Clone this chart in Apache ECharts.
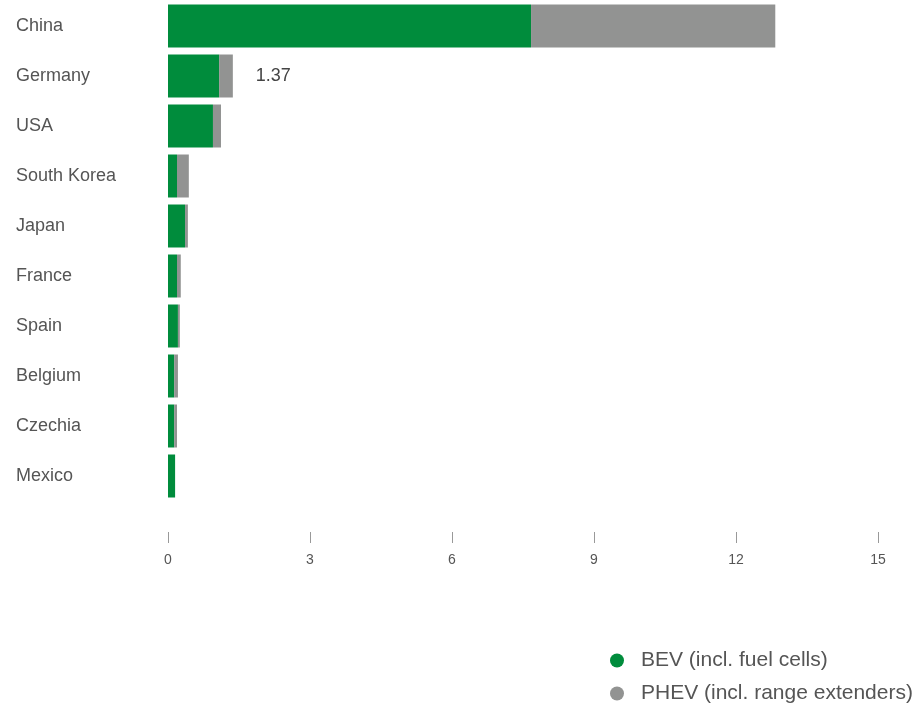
<!DOCTYPE html>
<html>
<head>
<meta charset="utf-8">
<script src="https://cdn.jsdelivr.net/npm/echarts@6/dist/echarts.min.js"></script>
<style>
  html, body { margin: 0; padding: 0; background: #fff; }
  #chart { width: 917px; height: 709px; }
</style>
</head>
<body>
<div id="chart"></div>
<script>
// million vehicles
const countries = ['China', 'Germany', 'USA', 'South Korea', 'Japan', 'France', 'Spain', 'Belgium', 'Czechia', 'Mexico'];
const bev = [7.67, 1.08, 0.95, 0.19, 0.36, 0.19, 0.21, 0.13, 0.13, 0.15];
const phev = [5.16, 0.29, 0.17, 0.25, 0.06, 0.08, 0.04, 0.08, 0.06, 0.0];
const labelled = ['Germany'];
const xTicks = { min: 0, max: 15, interval: 3 };

const green = '#008C3C';
const grey = '#929392';
const font = 'Liberation Sans, Arial, sans-serif';

let myChart = echarts.init(document.getElementById('chart'));

let option = {
  animation: false,
  textStyle: { fontFamily: font },
  legend: {
    orient: 'vertical',
    left: 610,
    top: 650,
    padding: 0,
    icon: 'circle',
    itemWidth: 14,
    itemHeight: 14,
    itemGap: 12,
    textStyle: { fontSize: 21, color: '#555', fontFamily: font, padding: [0, 0, 0, 12] },
    data: ['BEV (incl. fuel cells)', 'PHEV (incl. range extenders)']
  },
  grid: { left: 168, right: 39, top: 1, bottom: 208, containLabel: false },
  xAxis: {
    type: 'value',
    min: xTicks.min,
    max: xTicks.max,
    interval: xTicks.interval,
    offset: 31,
    splitLine: { show: false },
    axisLine: { show: false },
    axisTick: { show: true, length: 11, lineStyle: { color: '#999' } },
    axisLabel: { color: '#555', fontSize: 14, margin: 21, fontFamily: font }
  },
  yAxis: {
    type: 'category',
    inverse: true,
    data: countries,
    axisLine: { show: false },
    axisTick: { show: false },
    axisLabel: {
      color: '#555',
      fontSize: 18,
      align: 'left',
      margin: 152,
      fontFamily: font
    }
  },
  series: [
    {
      name: 'BEV (incl. fuel cells)',
      type: 'bar',
      stack: 'total',
      barCategoryGap: '14%',
      itemStyle: { color: green },
      data: bev
    },
    {
      name: 'PHEV (incl. range extenders)',
      type: 'bar',
      stack: 'total',
      itemStyle: { color: grey },
      label: {
        show: true,
        position: 'right',
        distance: 23,
        fontSize: 18,
        color: '#444',
        fontFamily: font,
        formatter: function (p) {
          if (labelled.indexOf(countries[p.dataIndex]) < 0) return '';
          return (bev[p.dataIndex] + phev[p.dataIndex]).toFixed(2);
        }
      },
      data: phev
    }
  ]
};

myChart.setOption(option);
</script>
</body>
</html>
